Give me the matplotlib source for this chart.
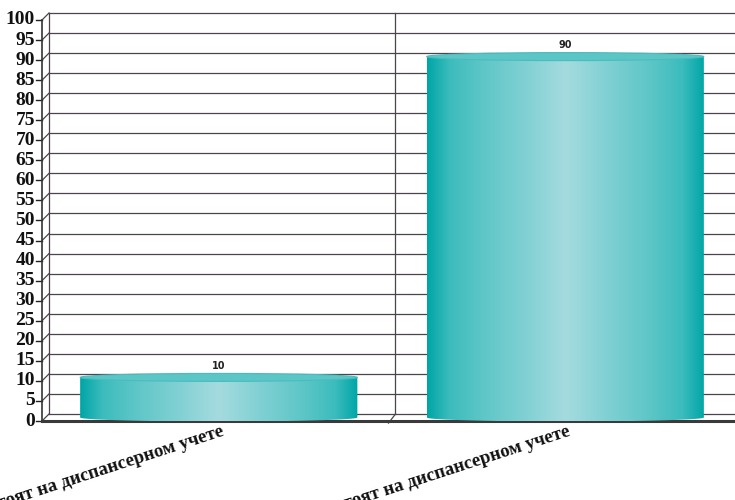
import numpy as np
import matplotlib.pyplot as plt
from matplotlib.colors import LinearSegmentedColormap
from matplotlib.patches import Ellipse, PathPatch
from matplotlib.path import Path

# data
categories = ["Состоят на диспансерном учете", "Не состоят на диспансерном учете"]
values = [10, 90]
yticks = list(range(0, 101, 5))

W, H = 735, 500
fig = plt.figure(figsize=(W / 100, H / 100), dpi=100)
# front plane of the pseudo-3d plot, in pixels
left, bottom, right, top = 42, 421, 735, 20
ax = fig.add_axes([left / W, (H - bottom) / H, (right - left) / W, (bottom - top) / H])
ax.set_xlim(0, 2)
ax.set_ylim(0, 100)
ax.axis('off')

# depth offset (pixels -> data units)
ppx = (right - left) / 2
ppy = (bottom - top) / 100
depth = 7
DX, DY = depth / ppx, depth / ppy

grid_c = '#4d434c'
for t in yticks:
    ax.plot([DX, 2 + DX], [t + DY, t + DY], color=grid_c, lw=0.9, clip_on=False, zorder=1)
    ax.plot([0, DX], [t, t + DY], color=grid_c, lw=0.9, clip_on=False, zorder=1)
    ax.plot([-0.016, 0], [t, t], color='#222222', lw=1, clip_on=False, zorder=1)
    ax.text(-0.02, t, str(t), ha='right', va='center', fontsize=14, fontweight='bold',
            family='Liberation Serif', color='#111111', clip_on=False)

# walls
ax.plot([DX, DX], [DY, 100 + DY], color=grid_c, lw=0.9, clip_on=False, zorder=1)
ax.plot([1 + DX, 1 + DX], [DY, 100 + DY], color=grid_c, lw=0.9, clip_on=False, zorder=1)
ax.plot([1, 1 + DX], [-DY * 0.3, DY], color=grid_c, lw=0.9, clip_on=False, zorder=1)
ax.plot([0, 0], [0, 100], color='#333333', lw=1.2, clip_on=False, zorder=2)
ax.plot([0, 2.05], [0, 0], color='#3a3a3a', lw=2.2, clip_on=False, zorder=2)

# cylinders
cmap = LinearSegmentedColormap.from_list('cyl', [
    (0.0, '#00a5a6'), (0.08, '#3cbcbd'), (0.2, '#5ec6c7'), (0.35, '#80d0d3'),
    (0.5, '#a5dbdf'), (0.65, '#80d0d3'), (0.8, '#5ec6c7'), (0.92, '#3cbcbd'),
    (1.0, '#00a5a6')])
grad = np.linspace(0, 1, 256).reshape(1, -1)
bw = 0.8
eh = 1.0  # ellipse half-height in data units
for i, v in enumerate(values):
    c = i + 0.5 + DX / 2
    base = DY / 2
    x0, x1 = c - bw / 2, c + bw / 2
    th = np.linspace(np.pi, 2 * np.pi, 40)
    arc = np.column_stack([c + bw / 2 * np.cos(th), base + eh * np.sin(th)])
    verts = np.vstack([[x0, base + v], [x0, base], arc, [x1, base], [x1, base + v], [x0, base + v]])
    path = Path(verts)
    patch = PathPatch(path, facecolor='none', edgecolor='none', zorder=3)
    ax.add_patch(patch)
    im = ax.imshow(grad, cmap=cmap, extent=[x0, x1, base - eh, base + v], aspect='auto',
                   zorder=3, interpolation='bilinear')
    im.set_clip_path(patch)
    ax.add_patch(Ellipse((c, base + v), bw, 2 * eh, facecolor='#5cc5c6',
                         edgecolor='#4bbcbd', lw=0.8, zorder=4))
    ax.text(c, base + v + eh + 0.6, str(v), ha='center', va='bottom', fontsize=7,
            fontweight='bold', color='#222222', zorder=5,
            bbox=dict(boxstyle='square,pad=0.15', fc='white', ec='none'))
    ax.text(c + 0.005, -0.4, categories[i], ha='right', va='top', rotation=18,
            rotation_mode='anchor', fontsize=13.5, fontweight='bold',
            family='Liberation Serif', color='#111111')

ax.set_xlim(0, 2)
ax.set_ylim(0, 100)
fig.savefig('out.png', dpi=100)
